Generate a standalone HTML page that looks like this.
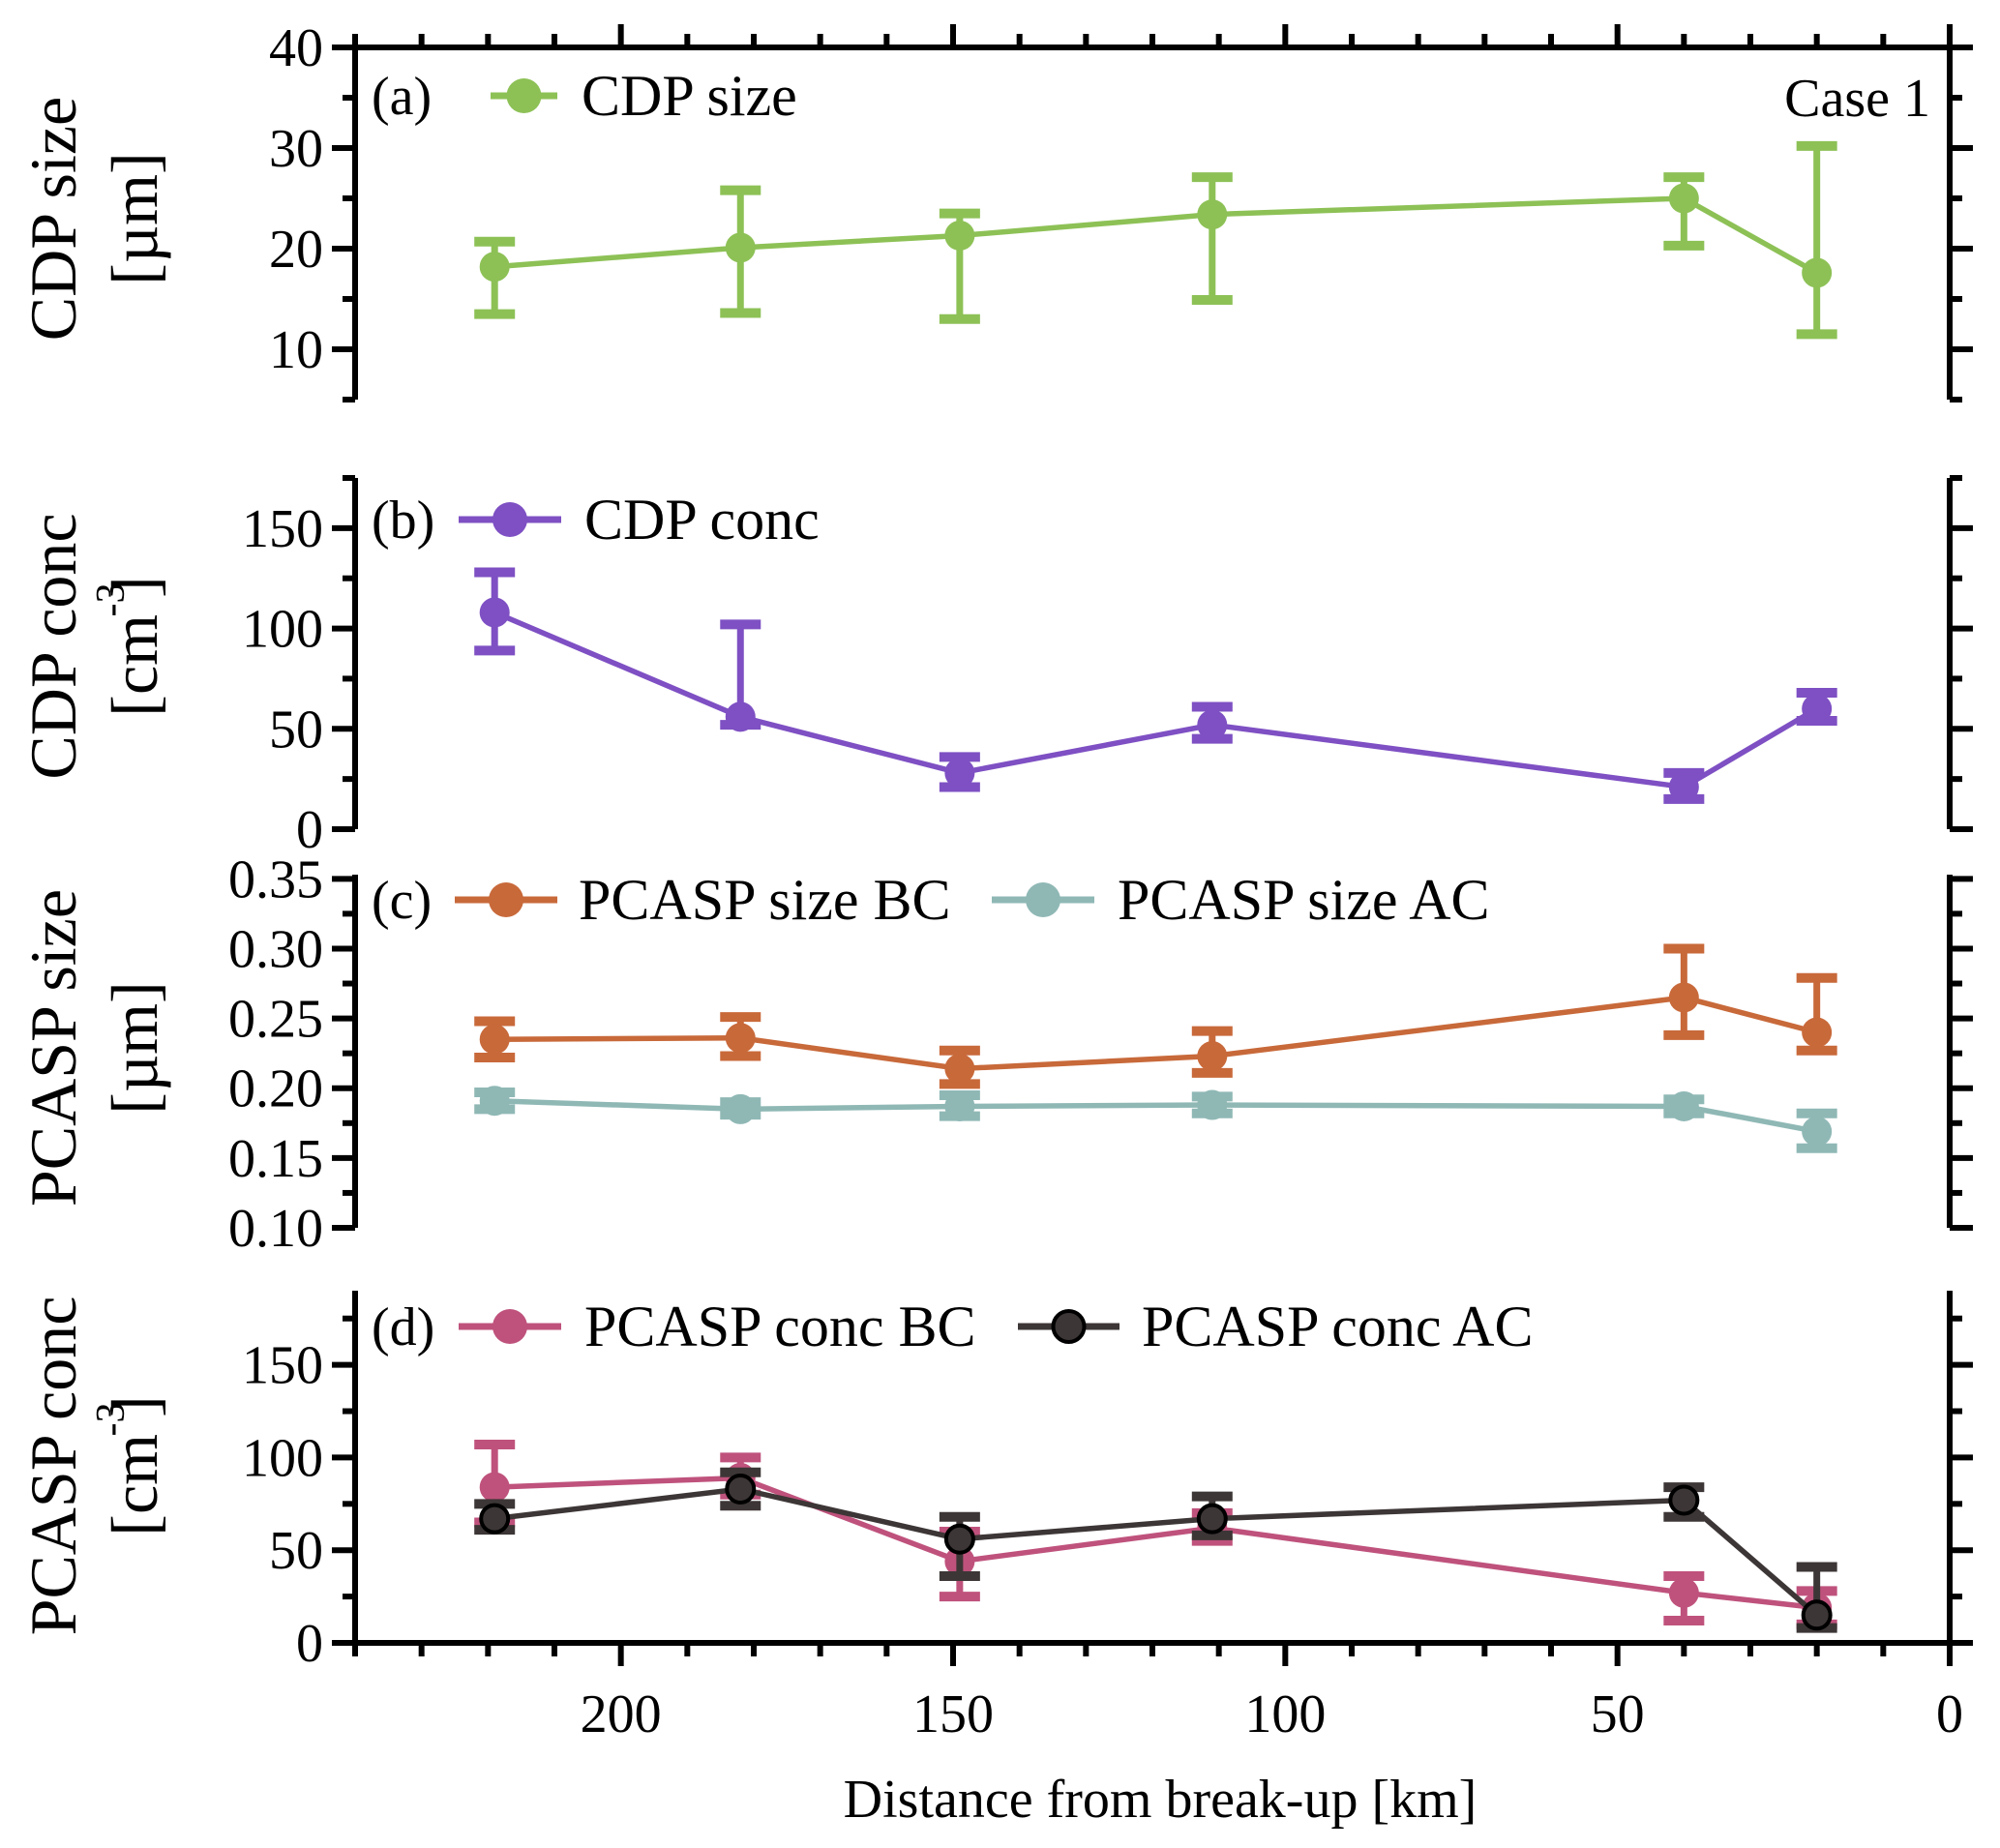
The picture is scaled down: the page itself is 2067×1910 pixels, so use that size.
<!DOCTYPE html>
<html><head><meta charset="utf-8"><style>
html,body{margin:0;padding:0;background:#fff}
svg{display:block;font-family:"Liberation Serif",serif}
</style></head><body>
<svg id="chart" width="2067" height="1910" viewBox="0 0 2067 1910" xmlns="http://www.w3.org/2000/svg">
<g id="axes"></g>
<g id="marks"></g>
<g id="labels" fill="#000"></g>
</svg>
<script>
const distances = [219, 182, 149, 111, 40, 20];
const xTicks = [200, 150, 100, 50, 0];
const cdpSize = [18.2, 20.1, 21.3, 23.4, 25.0, 17.6];
const cdpSizeLo = [13.5, 13.6, 13.0, 14.9, 20.3, 11.5];
const cdpSizeHi = [20.7, 25.8, 23.5, 27.1, 27.1, 30.2];
const cdpConc = [108, 56, 28, 52, 21, 60];
const cdpConcLo = [89, 52, 21, 45, 15, 54];
const cdpConcHi = [128, 102, 36, 61, 28, 68];
const pcSizeBC = [0.235, 0.236, 0.214, 0.223, 0.265, 0.240];
const pcSizeBCLo = [0.222, 0.223, 0.203, 0.211, 0.238, 0.227];
const pcSizeBCHi = [0.248, 0.251, 0.227, 0.241, 0.300, 0.279];
const pcSizeAC = [0.191, 0.185, 0.187, 0.188, 0.187, 0.169];
const pcSizeACLo = [0.185, 0.181, 0.180, 0.182, 0.182, 0.157];
const pcSizeACHi = [0.197, 0.190, 0.195, 0.194, 0.192, 0.182];
const pcConcBC = [84, 89, 44, 62, 27, 19];
const pcConcBCLo = [65, 80, 25, 55, 12, 10];
const pcConcBCHi = [107, 100, 60, 70, 36, 28];
const pcConcAC = [67, 83, 56, 67, 77, 15];
const pcConcACLo = [61, 74, 36, 58, 68, 8];
const pcConcACHi = [75, 92, 68, 79, 84, 41];
const ticksA = [10, 20, 30, 40];
const ticksB = [0, 50, 100, 150];
const ticksC = [0.10, 0.15, 0.20, 0.25, 0.30, 0.35];
const ticksD = [0, 50, 100, 150];

const NS = "http://www.w3.org/2000/svg";
const gA = document.getElementById('axes'), gM = document.getElementById('marks'), gL = document.getElementById('labels');
const XL = 367, XR = 2015;
const x = v => XR - (XR - XL) * v / 240;
function mk(tag, attrs, parent, txt) {
  const e = document.createElementNS(NS, tag);
  for (const k in attrs) e.setAttribute(k, attrs[k]);
  if (txt !== undefined) e.textContent = txt;
  parent.appendChild(e); return e;
}
const panels = [
  {id:'a', vmin:5, vmax:40, yTop:49, yBot:413, ticks:ticksA, minor:5, fmt:v=>String(v)},
  {id:'b', vmin:0, vmax:175, yTop:494, yBot:857, ticks:ticksB, minor:25, fmt:v=>String(v)},
  {id:'c', vmin:0.10, vmax:0.353, yTop:904, yBot:1269, ticks:ticksC, minor:0.025, fmt:v=>v.toFixed(2)},
  {id:'d', vmin:0, vmax:190, yTop:1334, yBot:1698, ticks:ticksD, minor:25, fmt:v=>String(v)}
];
panels.forEach(p => { p.y = v => p.yBot - (v - p.vmin) / (p.vmax - p.vmin) * (p.yBot - p.yTop); });

panels.forEach(p => {
  let l = mk('line', {x1:XL, y1:p.yTop, x2:XL, y2:p.yBot, stroke:'#000', 'stroke-width':6}, gA);
  
  
  l = mk('line', {x1:XR, y1:p.yTop, x2:XR, y2:p.yBot, stroke:'#000', 'stroke-width':6}, gA);
  
  
  for (let v = p.vmin; v <= p.vmax + 1e-9; v += p.minor) {
    const yy = p.y(v);
    const major = p.ticks.some(t => Math.abs(t - v) < 1e-6);
    const len = major ? 24 : 13;
    mk('line', {x1:XL - len, y1:yy, x2:XL, y2:yy, stroke:'#000', 'stroke-width':6}, gA);
    mk('line', {x1:XR, y1:yy, x2:XR + len, y2:yy, stroke:'#000', 'stroke-width':6}, gA);
  }
  p.ticks.forEach(t => {
    const tx = mk('text', {x:334, y:p.y(t) + 19, 'font-size':56, 'text-anchor':'end'}, gL, p.fmt(t));
    
    
  });
});
let ta = mk('line', {x1:XL - 3, y1:49, x2:XR + 3, y2:49, stroke:'#000', 'stroke-width':6}, gA);


let ba = mk('line', {x1:XL - 3, y1:1698, x2:XR + 3, y2:1698, stroke:'#000', 'stroke-width':6}, gA);


for (let v = 0; v <= 240; v += 10) {
  const major = v % 50 === 0;
  const len = major ? 24 : 14;
  mk('line', {x1:x(v), y1:49, x2:x(v), y2:49 - len, stroke:'#000', 'stroke-width':6}, gA);
  mk('line', {x1:x(v), y1:1698, x2:x(v), y2:1698 + len, stroke:'#000', 'stroke-width':6}, gA);
}
xTicks.forEach(t => {
  const tx = mk('text', {x:x(t), y:1790, 'font-size':56, 'text-anchor':'middle'}, gL, String(t));
  
  
});
let xt = mk('text', {x:1199, y:1878, 'font-size':56, 'text-anchor':'middle', 'xml:space':'preserve'}, gL, 'Distance from  break-up [km]');



function series(p, vals, lo, hi, color, name, outline) {
  const g = mk('g', {}, gM);
  
  
  const pts = distances.map((d, i) => x(d) + ',' + p.y(vals[i])).join(' ');
  mk('polyline', {points:pts, fill:'none', stroke:color, 'stroke-width':5.5}, g);
  distances.forEach((d, i) => {
    const cx = x(d);
    mk('line', {x1:cx, y1:p.y(lo[i]), x2:cx, y2:p.y(hi[i]), stroke:color, 'stroke-width':7}, g);
    mk('line', {x1:cx - 21, y1:p.y(lo[i]), x2:cx + 21, y2:p.y(lo[i]), stroke:color, 'stroke-width':10}, g);
    mk('line', {x1:cx - 21, y1:p.y(hi[i]), x2:cx + 21, y2:p.y(hi[i]), stroke:color, 'stroke-width':10}, g);
    const c = mk('circle', {cx:cx, cy:p.y(vals[i]), r:outline ? 14 : 15.5, fill:color, stroke:outline ? '#000' : 'none', 'stroke-width':4}, g);
    
    
  });
}
const [A, B, C, D] = panels;
series(A, cdpSize, cdpSizeLo, cdpSizeHi, '#8dc156', 'cdp-size-series');
series(B, cdpConc, cdpConcLo, cdpConcHi, '#7e50c3', 'cdp-conc-series');
series(C, pcSizeAC, pcSizeACLo, pcSizeACHi, '#8fb8b5', 'pcasp-size-ac-series');
series(C, pcSizeBC, pcSizeBCLo, pcSizeBCHi, '#c8693a', 'pcasp-size-bc-series');
series(D, pcConcBC, pcConcBCLo, pcConcBCHi, '#bf527c', 'pcasp-conc-bc-series');
series(D, pcConcAC, pcConcACLo, pcConcACHi, '#3d3636', 'pcasp-conc-ac-series', true);

function legend(lx1, lx2, y, color, label, tx, name, outline) {
  const g = mk('g', {}, gL);
  
  
  mk('line', {x1:lx1, y1:y, x2:lx2, y2:y, stroke:color, 'stroke-width':7}, g);
  mk('circle', {cx:(lx1 + lx2) / 2, cy:y, r:outline ? 16 : 18, fill:color, stroke:outline ? '#000' : 'none', 'stroke-width':4}, g);
  mk('text', {x:tx, y:y + 20, 'font-size':60, 'xml:space':'preserve'}, g, label);
}
function tag(t, yy, name) {
  const e = mk('text', {x:384, y:yy + 19, 'font-size':56}, gL, t);
  
  
}
tag('(a)', 99, 'panel-a-label'); tag('(b)', 537, 'panel-b-label'); tag('(c)', 930, 'panel-c-label'); tag('(d)', 1371, 'panel-d-label');
legend(507, 576, 99, '#8dc156', 'CDP size', 601, 'legend-cdp-size');
legend(474, 580, 537, '#7e50c3', 'CDP  conc', 604, 'legend-cdp-conc');
legend(470, 576, 930, '#c8693a', 'PCASP size  BC', 598, 'legend-pcasp-size-bc');
legend(1025, 1131, 930, '#8fb8b5', 'PCASP size  AC', 1155, 'legend-pcasp-size-ac');
legend(474, 580, 1371, '#bf527c', 'PCASP conc  BC', 604, 'legend-pcasp-conc-bc');
legend(1052, 1157, 1371, '#3d3636', 'PCASP conc  AC', 1180, 'legend-pcasp-conc-ac', true);
let cs = mk('text', {x:1995, y:120, 'font-size':56, 'text-anchor':'end'}, gL, 'Case 1');



function ytitle(cy, l1, l2, name, sup) {
  const g = mk('g', {transform:`translate(0,${cy}) rotate(-90)`}, gL);
  
  
  mk('text', {x:0, y:78, 'font-size':68, 'text-anchor':'middle'}, g, l1);
  if (sup) {
    mk('text', {x:0, y:162, 'font-size':68, 'text-anchor':'middle', 'xml:space':'preserve'}, g, '[cm    ]');
    mk('text', {x:48, y:128, 'font-size':42, 'text-anchor':'middle'}, g, '-3');
  } else {
    mk('text', {x:0, y:162, 'font-size':68, 'text-anchor':'middle'}, g, l2);
  }
}
ytitle(226, 'CDP size', '[µm]', 'y-axis-title-a');
ytitle(668, 'CDP conc', '', 'y-axis-title-b', true);
ytitle(1083, 'PCASP  size', '[µm]', 'y-axis-title-c');
ytitle(1515, 'PCASP  conc', '', 'y-axis-title-d', true);
</script>
</body></html>
